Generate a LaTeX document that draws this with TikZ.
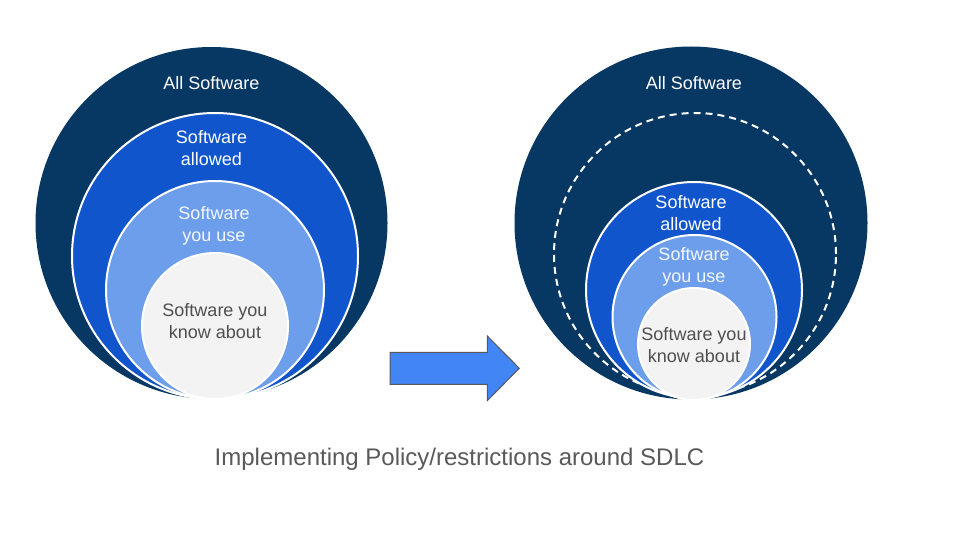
\documentclass[tikz,border=0pt]{standalone}
\usepackage{fontspec}
\setmainfont{Liberation Sans}
\definecolor{navy}{HTML}{073763}
\definecolor{allowblue}{HTML}{1155CC}
\definecolor{useblue}{HTML}{6D9EEB}
\definecolor{knowgray}{HTML}{F3F3F3}
\definecolor{arrowblue}{HTML}{4285F4}
\definecolor{edgegray}{HTML}{595959}
\definecolor{txtgray}{HTML}{4F4F4F}
\begin{document}
\begin{tikzpicture}[x=1pt,y=-1pt,
  ring/.style={circle,inner sep=0pt,outer sep=0pt,draw=white,line width=2pt},
  lbl/.style={align=center,inner sep=0pt,font=\fontsize{18}{22}\selectfont},
  wlbl/.style={lbl,text=white},
  glbl/.style={lbl,text=txtgray}]
\useasboundingbox[fill=white] (0,0) rectangle (960,540);
% left set
\node[ring,fill=navy,draw=none,minimum size=352pt] (lout) at (211.5,223) {};
\node[ring,fill=allowblue,minimum size=286pt] (lallow) at (215,256) {};
\node[ring,fill=useblue,minimum size=218pt] (luse) at (215,290) {};
\node[ring,fill=knowgray,minimum size=146pt] (lknow) at (215,326) {};
\node[wlbl] (tlout) at (211.5,83.5) {All Software};
\node[wlbl] (tlallow) at (211.5,148.5) {Software\\allowed};
\node[wlbl,text=white!92!useblue] (tluse) at (214,226) {Software\\you use};
\node[glbl] (tlknow) at (215,321) {Software you\\know about};
% right set
\node[ring,fill=navy,draw=none,minimum size=353pt] (rout) at (691,223) {};
\node[ring,draw=white,dash pattern=on 7pt off 5pt,minimum size=282pt] (rdash) at (695,254) {};
\node[ring,fill=allowblue,minimum size=216pt] (rallow) at (694,290) {};
\node[ring,fill=useblue,minimum size=164pt] (ruse) at (694.5,317) {};
\node[ring,fill=knowgray,minimum size=112pt] (rknow) at (694,344) {};
\node[wlbl] (trout) at (694,83.5) {All Software};
\node[wlbl] (trallow) at (691,213) {Software\\allowed};
\node[wlbl,text=white!92!useblue] (truse) at (694,266.5) {Software\\you use};
\node[glbl] (trknow) at (694,345.5) {Software you\\know about};
% arrow
\draw[fill=arrowblue,draw=edgegray,line width=1pt,line join=miter]
  (390,352.3) -- (487.3,352.3) -- (487.3,336) -- (519.3,368.3) -- (487.3,400.7)
  -- (487.3,384.3) -- (390,384.3) -- cycle;
% caption
\node[inner sep=0pt,text=edgegray,font=\fontsize{24}{28}\selectfont] (cap) at (459.5,459) {Implementing Policy/restrictions around SDLC};
\end{tikzpicture}
\end{document}
